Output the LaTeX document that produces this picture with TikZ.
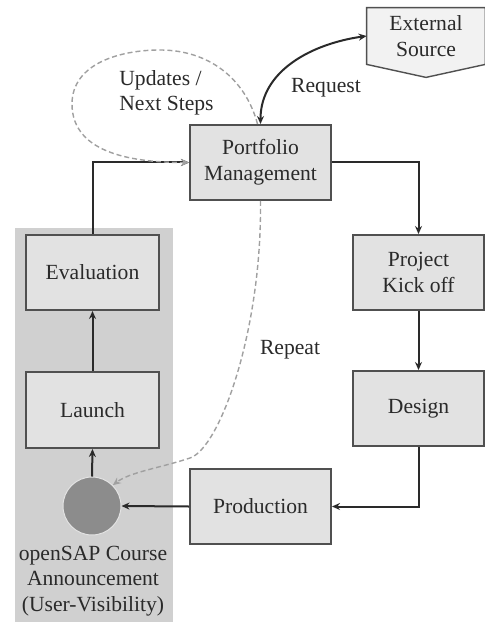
\documentclass[tikz,border=0pt]{standalone}
\usepackage{fontspec}
\setmainfont{Liberation Serif}
\usetikzlibrary{arrows.meta,calc,backgrounds}
\definecolor{boxfill}{HTML}{E2E2E2}
\definecolor{extfill}{HTML}{F2F2F2}
\definecolor{panel}{HTML}{D0D0D0}
\definecolor{rim}{HTML}{505050}
\definecolor{ink}{HTML}{2A2A2A}
\definecolor{dot}{HTML}{8C8C8C}
\definecolor{dash}{HTML}{A0A0A0}
\tikzset{
  stepbox/.style={draw=rim, fill=boxfill, line width=1pt, inner sep=0pt,
    align=center, text=ink},
  flow/.style={draw=ink, line width=1pt, -{Stealth[length=4pt,width=3.5pt]}},
  loopline/.style={draw=dash, line width=0.7pt, dash pattern=on 2.5pt off 1.5pt,
    -{Stealth[length=4pt,width=3.5pt]}},
  lbl/.style={text=ink, align=left, inner sep=0pt}
}
\begin{document}
\begin{tikzpicture}[x=0.5pt,y=-0.5pt,font=\fontsize{10.8}{12.8}\selectfont]
\useasboundingbox (0,0) rectangle (485,624);
\begin{pgfonlayer}{background}
\fill[white] (0,0) rectangle (485,624);
\end{pgfonlayer}

% shaded column behind the release steps
\fill[panel] (15,228) rectangle (173,622);

% process steps
\node[stepbox, minimum width=70.5pt, minimum height=37.5pt] (pm) at (260.5,162.5) {Portfolio\\Management};
\node[stepbox, minimum width=66.5pt, minimum height=37.5pt] (eval) at (92.5,272.5) {Evaluation};
\node[stepbox, minimum width=66.5pt, minimum height=38pt] (launch) at (92.5,410) {Launch};
\node[stepbox, minimum width=65.5pt, minimum height=37.5pt] (pk) at (418.5,272.5) {Project\\Kick off};
\node[stepbox, minimum width=65.5pt, minimum height=37.5pt] (des) at (418.5,408.5) {Design};
\node[stepbox, minimum width=70.5pt, minimum height=37.5pt] (prod) at (260.5,506.5) {Production};

% announcement milestone
\node[circle, fill=dot, draw=panel!60!white, line width=0.5pt, minimum size=29pt, inner sep=0pt] (circ) at (92,506) {};
\node[text=ink, align=center, inner sep=0pt, font=\fontsize{10.8}{12.6}\selectfont] (anntext) at (93,581) {openSAP Course\\Announcement\\(User-Visibility)};

% external source, drawn as an off-page marker behind its text
\node[minimum width=59pt, minimum height=28pt, inner sep=0pt, align=center, text=ink] (ext) at (426,36) {External\\Source};
\begin{pgfonlayer}{background}
\draw[rim, fill=extfill, line width=0.7pt] (ext.north west) -- (ext.north east) -- (ext.south east)
  -- ($(ext.south)+(0,13)$) -- (ext.south west) -- cycle;
\end{pgfonlayer}

% main cycle
\draw[flow] (pm.east) -| (pk.north);
\draw[flow] (pk.south) -- (des.north);
\draw[flow] (des.south) |- (prod.east);
\draw[flow] (prod.west) -- (circ.east);
\draw[flow] (circ.north) -- (launch.south);
\draw[flow] (launch.north) -- (eval.south);
\draw[flow] (eval.north) |- (pm.west);

% request to the external source
\draw[draw=ink, line width=1pt, {Stealth[length=4pt,width=3.5pt]}-{Stealth[length=4pt,width=3.5pt]}]
  (pm.north) to[out=90,in=188] (ext.west);
\node[lbl] (req) at (326,88) {Request};

% feedback loops
\coordinate (loopstart) at ($(pm.north)+(-3,0)$);
\coordinate (looptop) at (160,50);
\coordinate (loopleft) at (72,104);
\draw[loopline] (loopstart) to[out=105,in=0] (looptop) to[out=180,in=90] (loopleft) to[out=-90,in=180] (pm.west);
\node[lbl, anchor=west] (upd) at (119,93) {Updates /\\Next Steps};

\coordinate (repbend) at (190,458);
\draw[loopline] (pm.south) .. controls (262,330) and (220,448) .. (repbend)
  .. controls (160,468) and (130,472) .. (circ.north east);
\node[lbl] (rep) at (290,350) {Repeat};
\end{tikzpicture}
\end{document}
